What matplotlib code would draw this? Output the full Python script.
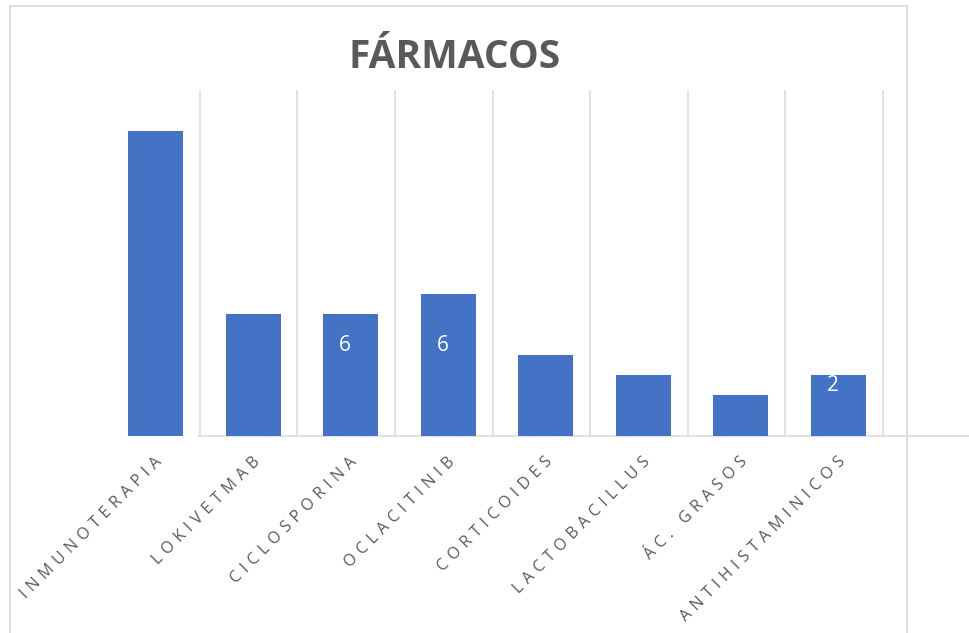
import matplotlib
matplotlib.use("Agg")
import matplotlib.pyplot as plt
from matplotlib.lines import Line2D

categories = ["INMUNOTERAPIA", "LOKIVETMAB", "CICLOSPORINA", "OCLACITINIB",
              "CORTICOIDES", "LACTOBACILLUS", "ÁC. GRASOS", "ANTIHISTAMINICOS"]
values = [15, 6, 6, 7, 4, 3, 2, 3]
label_text = ["", "", "6", "6", "", "", "", "2"]
label_y = [None, None, 4.43, 4.43, None, None, None, 2.5]

W, H = 969, 633
fig = plt.figure(figsize=(W / 100, H / 100), dpi=100)
fig.patch.set_facecolor("white")

def fx(px):
    return px / W

def fy(py):
    return 1 - py / H

# chart frame
frame_col = "#d9d9d9"
for (x0, y0, x1, y1) in [(10, 6, 907, 6), (10, 6, 10, 640), (907, 6, 907, 640)]:
    fig.add_artist(Line2D([fx(x0), fx(x1)], [fy(y0), fy(y1)], color=frame_col, lw=1.2,
                          transform=fig.transFigure))

left_px, right_px, top_px, base_px = 106.7, 969, 90, 436
ax = fig.add_axes([fx(left_px), fy(base_px), fx(right_px - left_px), (base_px - top_px) / H])
ax.set_xlim(-0.5, (right_px - 155.5) / 97.57)
ax.set_ylim(0, 17.02)
ax.axis("off")

x = list(range(len(categories)))
# vertical gridlines between categories
for i in x:
    ax.plot([i + 0.455, i + 0.455], [0, 17.02], color=frame_col, lw=1.1, zorder=1,
            clip_on=False, solid_capstyle="butt")
# horizontal axis line
ax.plot([0.436, ax.get_xlim()[1]], [0, 0], color=frame_col, lw=1.1, zorder=1,
        clip_on=False, solid_capstyle="butt")

ax.bar(x, values, width=0.564, color="#4472C4", zorder=2)

for i, (t, yy) in enumerate(zip(label_text, label_y)):
    if t:
        ax.annotate(t, xy=(i, yy), xytext=(-4, 0), textcoords="offset points",
                    color="white", ha="center", va="center", fontsize=15,
                    family=["Open Sans", "DejaVu Sans"], zorder=3)

SP = "\u2004"
for i, c in enumerate(categories):
    spaced = SP.join(c)
    ax.annotate(spaced, xy=(i, 0), xytext=(-1, -13), textcoords="offset points",
                rotation=45, rotation_mode="anchor", ha="right", va="top",
                fontsize=11.5, color="#595959", family=["Open Sans", "DejaVu Sans"])

fig.text(fx(455), fy(57), "FÁRMACOS", ha="center", va="center", fontsize=28,
         fontweight="bold", color="#595959", family="Open Sans")

fig.savefig("out.png", dpi=100, facecolor="white")
